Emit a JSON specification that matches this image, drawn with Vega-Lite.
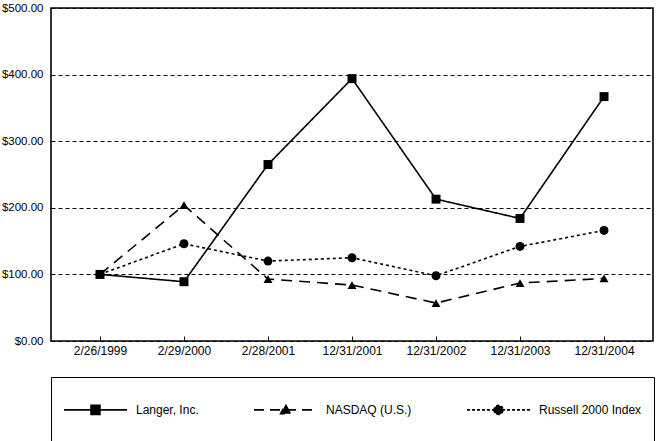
{
  "$schema": "https://vega.github.io/schema/vega-lite/v6.json",
  "width": 602,
  "height": 333,
  "autosize": "none",
  "padding": {"left": 51, "top": 8, "right": 4, "bottom": 100},
  "background": "white",
  "config": {
    "view": {"stroke": "black", "strokeWidth": 1.6},
    "font": "Liberation Sans",
    "axis": {"labelFont": "Liberation Sans", "labelFontSize": 11.5, "labelColor": "black", "domain": false, "title": null},
    "legend": {
      "title": null,
      "orient": "none",
      "legendX": 0,
      "legendY": 369,
      "direction": "horizontal",
      "columns": 3,
      "columnPadding": 51,
      "padding": 12,
      "strokeColor": "black",
      "fillColor": "white",
      "symbolSize": 1521,
      "symbolStrokeWidth": 1.6,
      "labelOffset": 32,
      "labelFontSize": 12,
      "labelFont": "Liberation Sans",
      "labelColor": "black"
    }
  },
  "resolve": {"legend": {"shape": "independent", "strokeDash": "independent", "color": "independent"}},
  "data": {
    "values": [
      {"date": "2/26/1999", "idx": 0, "series": "Langer, Inc.", "value": 100},
      {"date": "2/29/2000", "idx": 1, "series": "Langer, Inc.", "value": 89},
      {"date": "2/28/2001", "idx": 2, "series": "Langer, Inc.", "value": 265},
      {"date": "12/31/2001", "idx": 3, "series": "Langer, Inc.", "value": 394},
      {"date": "12/31/2002", "idx": 4, "series": "Langer, Inc.", "value": 213},
      {"date": "12/31/2003", "idx": 5, "series": "Langer, Inc.", "value": 184},
      {"date": "12/31/2004", "idx": 6, "series": "Langer, Inc.", "value": 367},
      {"date": "2/26/1999", "idx": 0, "series": "NASDAQ (U.S.)", "value": 100},
      {"date": "2/29/2000", "idx": 1, "series": "NASDAQ (U.S.)", "value": 204},
      {"date": "2/28/2001", "idx": 2, "series": "NASDAQ (U.S.)", "value": 93},
      {"date": "12/31/2001", "idx": 3, "series": "NASDAQ (U.S.)", "value": 84},
      {"date": "12/31/2002", "idx": 4, "series": "NASDAQ (U.S.)", "value": 57},
      {"date": "12/31/2003", "idx": 5, "series": "NASDAQ (U.S.)", "value": 87},
      {"date": "12/31/2004", "idx": 6, "series": "NASDAQ (U.S.)", "value": 94},
      {"date": "2/26/1999", "idx": 0, "series": "Russell 2000 Index", "value": 100},
      {"date": "2/29/2000", "idx": 1, "series": "Russell 2000 Index", "value": 146},
      {"date": "2/28/2001", "idx": 2, "series": "Russell 2000 Index", "value": 120},
      {"date": "12/31/2001", "idx": 3, "series": "Russell 2000 Index", "value": 125},
      {"date": "12/31/2002", "idx": 4, "series": "Russell 2000 Index", "value": 98},
      {"date": "12/31/2003", "idx": 5, "series": "Russell 2000 Index", "value": 142},
      {"date": "12/31/2004", "idx": 6, "series": "Russell 2000 Index", "value": 166}
    ]
  },
  "encoding": {
    "x": {
      "field": "date", "type": "ordinal",
      "sort": ["2/26/1999", "2/29/2000", "2/28/2001", "12/31/2001", "12/31/2002", "12/31/2003", "12/31/2004"],
      "scale": {"type": "point", "padding": 0.583},
      "axis": {"labelAngle": 0, "labelFontSize": 12, "tickSize": -5, "tickColor": "black", "tickWidth": 1, "labelPadding": 9, "grid": false}
    },
    "y": {
      "field": "value", "type": "quantitative",
      "scale": {"domain": [0, 500], "nice": false},
      "axis": {"values": [0, 100, 200, 300, 400, 500], "format": "$.2f", "ticks": false, "labelPadding": 8, "grid": true, "gridColor": "black", "gridDash": [4, 3], "gridWidth": 1, "gridOpacity": 1}
    }
  },
  "layer": [
    {
      "mark": {"type": "line", "color": "black", "strokeWidth": 1.6},
      "encoding": {
        "strokeDash": {
          "field": "series", "type": "nominal",
          "scale": {"range": [[1, 0], [11, 7], [3, 3]]},
          "legend": null
        },
        "order": {"field": "idx"}
      }
    },
    {
      "mark": {"type": "point", "filled": true, "opacity": 1, "size": 80},
      "encoding": {
        "shape": {
          "field": "series", "type": "nominal",
          "scale": {"range": ["square", "triangle-up", "circle"]},
          "legend": null
        },
        "color": {
          "field": "series", "type": "nominal",
          "scale": {"domain": ["Langer, Inc.", "NASDAQ (U.S.)", "Russell 2000 Index"], "range": ["black", "black", "black"]},
          "legend": {
            "symbolType": {"expr": "datum.value === 'Langer, Inc.' ? 'M-1,-1M-1,1M-1,0H2.23M0.385,-0.23H0.845V0.23H0.385Z' : datum.value === 'NASDAQ (U.S.)' ? 'M-1,-1M-1,1M-1,0H2.23M0.615,-0.27L0.87,0.2H0.36Z' : 'M-1,-1M-1,1M-1,0H2.23M0.385,0A0.23,0.23 0 1,0 0.845,0A0.23,0.23 0 1,0 0.385,0Z'"},
            "symbolDash": {"expr": "datum.value === 'NASDAQ (U.S.)' ? [10, 6] : datum.value === 'Russell 2000 Index' ? [3, 2] : [1, 0]"},
            "symbolFillColor": "black",
            "symbolStrokeColor": "black",
            "symbolStrokeWidth": 1.6,
            "labelExpr": "datum.label === 'Russell 2000 Index' ? datum.label + '\u2002\u2002' : datum.label",
            "encode": {
              "symbols": {
                "stroke": {"value": "black"},
                "strokeWidth": {"value": 1.6}
              }
            }
          }
        }
      }
    }
  ]
}
